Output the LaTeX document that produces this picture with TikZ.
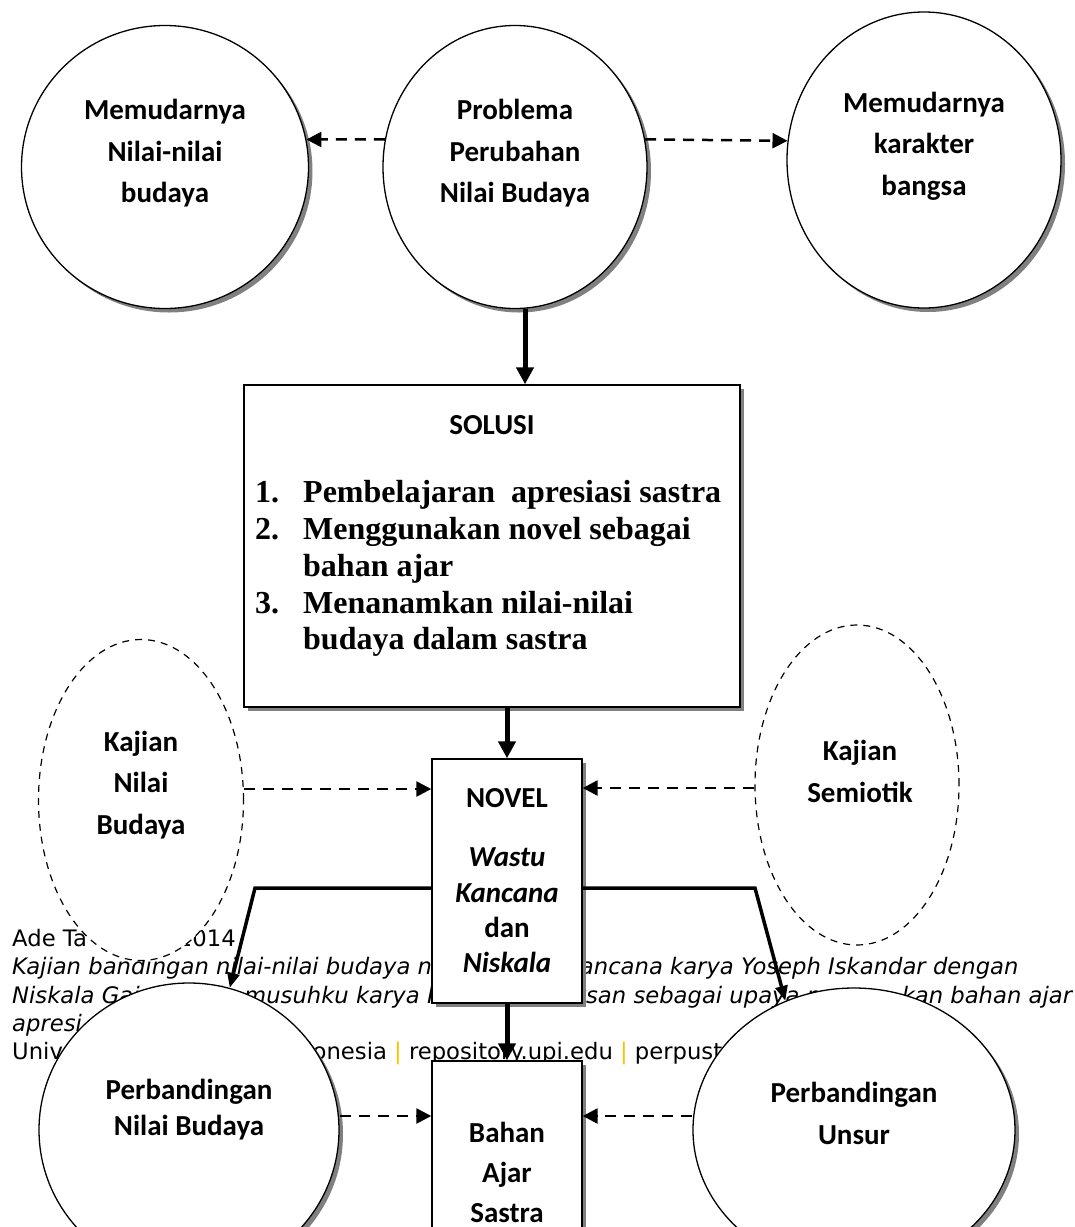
\documentclass[tikz,border=0pt]{standalone}
\usepackage{fontspec}
\setmainfont{Carlito}
\newfontfamily\footfont{DejaVu Sans}
\newfontfamily\listfont{Liberation Serif}
\usetikzlibrary{shapes.geometric,arrows.meta,positioning,shadows}
\definecolor{upigold}{RGB}{255,192,0}
\definecolor{shadowgray}{RGB}{128,128,128}

\begin{document}
\begin{tikzpicture}[x=1pt,y=-1pt,>={Triangle[length=17pt,width=17pt]},
	bubble/.style={ellipse,draw,line width=1.3pt,fill=white,inner sep=0pt,
		drop shadow={shadow xshift=4pt,shadow yshift=-4pt,fill=shadowgray,opacity=1}},
	study/.style={ellipse,draw,line width=1.2pt,fill=white,inner sep=0pt,dash pattern=on 7pt off 6pt},
	box/.style={rectangle,draw,line width=1.4pt,fill=white,inner sep=0pt,
		drop shadow={shadow xshift=4pt,shadow yshift=-4pt,fill=shadowgray,opacity=1}},
	lbl/.style={font=\bfseries\fontsize{29}{41.5}\selectfont,align=center,inner sep=0pt},
	flow/.style={->,line width=5pt},
	branch/.style={>={Triangle[length=15pt,width=12pt]},->,line width=3.5pt},
	hint/.style={>={Triangle[length=15pt,width=15pt]},->,line width=2.5pt,dash pattern=on 11pt off 8pt},
	foot/.style={anchor=base west,inner sep=0pt,font=\footfont\fontsize{22.7}{28}\selectfont},
	]
	\useasboundingbox (0,0) rectangle (1075,1227);
	\clip (0,0) rectangle (1075,1227);
	\fill[white] (0,0) rectangle (1075,1227);

	% page footer lying under the diagram
	\node (ftr1) [foot] at (12,946) {Ade Ta\hspace{91pt}2014};
	\node (ftr2) [foot] at (12,974) {\itshape Kajian bandingan nilai-nilai budaya n\hspace{148pt}ancana karya Yoseph Iskandar dengan};
	\node (ftr3) [foot] at (12,1003) {\itshape Niskala Gajah Mada musuhku karya Hermawan Aksan sebagai upaya m\hspace{73pt}kan bahan ajar};
	\node (ftr4) [foot] at (12,1031) {\itshape apresi};
	\node (ftr5) [foot] at (12,1059) {Universitas Pendidikan Indonesia {\color{upigold}|} repository.upi.edu {\color{upigold}|} perpustakaan.upi.edu};

	% create the nodes
	\node (decline) [bubble, minimum width=287pt, minimum height=283pt] at (165,167) {};
	\node (problem) [bubble, minimum width=264pt, minimum height=283pt] at (515,167) {};
	\node (character) [bubble, minimum width=274pt, minimum height=296pt] at (924,160) {};
	\node (declinetxt) [lbl] at ([yshift=13.5pt]decline) {Memudarnya\\Nilai-nilai\\budaya};
	\node (problemtxt) [lbl] at ([yshift=13.5pt]problem) {Problema\\Perubahan\\Nilai Budaya};
	\node (charactertxt) [lbl] at ([yshift=14pt]character) {Memudarnya\\karakter\\bangsa};

	\node (solusi) [box, minimum width=496pt, minimum height=322pt] at (492,546) {};
	\node (soltitle) [lbl] at (492,425) {SOLUSI};
	\node (sollist) [anchor=north west, inner sep=0pt, font=\listfont\bfseries\fontsize{32}{36.7}\selectfont] at (255,477)
		{\begin{tabular}{@{}l@{\hspace{24pt}}l@{}}
			1. & Pembelajaran\ \ apresiasi sastra\\
			2. & Menggunakan novel sebagai\\
			   & bahan ajar\\
			3. & Menanamkan nilai-nilai\\
			   & budaya dalam sastra
		\end{tabular}};

	\node (kajnilai) [study, minimum width=205pt, minimum height=321pt] at (141,800) {};
	\node (kajnilaitxt) [lbl] at ([yshift=15pt]kajnilai) {Kajian\\Nilai\\Budaya};
	\node (kajsemio) [study, minimum width=204pt, minimum height=320pt] at (857,785) {};
	\node (kajsemiotxt) [lbl] at ([yshift=13.5pt,xshift=3pt]kajsemio) {Kajian\\Semiotik};

	\node (novel) [box, lbl, font=\bfseries\fontsize{29}{35.3}\selectfont, minimum width=150pt, minimum height=244pt] at (507,881)
		{NOVEL\\[23.7pt]\textit{Wastu}\\\textit{Kancana}\\dan\\\textit{Niskala}};
	\node (bahan) [box, minimum width=150pt, minimum height=230pt] at (507,1176) {};
	\node (bahantxt) [lbl, font=\bfseries\fontsize{29}{40}\selectfont] at ([yshift=4pt]bahan) {Bahan\\Ajar\\Sastra};

	\node (cmpvalue) [bubble, minimum width=300pt, minimum height=294pt] at (189,1130) {};
	\node (cmpvaluetxt) [lbl, font=\bfseries\fontsize{29}{36}\selectfont] at ([yshift=20pt]cmpvalue) {Perbandingan\\Nilai Budaya};
	\node (cmpelem) [bubble, minimum width=322pt, minimum height=284pt] at (854,1130) {};
	\node (cmpelemtxt) [lbl, font=\bfseries\fontsize{29}{42}\selectfont] at ([yshift=17pt]cmpelem) {Perbandingan\\Unsur};

	\coordinate (forkl) at (255,888);
	\coordinate (forkr) at (755,888);

	% connect the nodes
	\draw[hint] (problem.168) -- (decline.11);
	\draw[hint] (problem.12) -- (character.172);
	\draw[flow] ([xshift=10pt]problem.south) -- ([xshift=10pt]problem.south |- solusi.north);
	\draw[flow] (novel.north |- solusi.south) -- (novel.north);
	\draw[hint] ([yshift=11pt]kajnilai.east) -- ([yshift=11pt]kajnilai.east -| novel.west);
	\draw[hint] ([yshift=-3pt]kajsemio.west) -- ([yshift=-3pt]kajsemio.west -| novel.east);
	\draw[branch] (novel.west |- forkl) -- (forkl) -- (cmpvalue.74);
	\draw[branch] (novel.east |- forkr) -- (forkr) -- (cmpelem.118);
	\draw[flow] (novel.south) -- (bahan.north);
	\draw[hint] ([yshift=14pt]cmpvalue.east) -- ([yshift=14pt]cmpvalue.east -| bahan.west);
	\draw[hint] ([yshift=14pt]cmpelem.west) -- ([yshift=14pt]cmpelem.west -| bahan.east);

\end{tikzpicture}
\end{document}
